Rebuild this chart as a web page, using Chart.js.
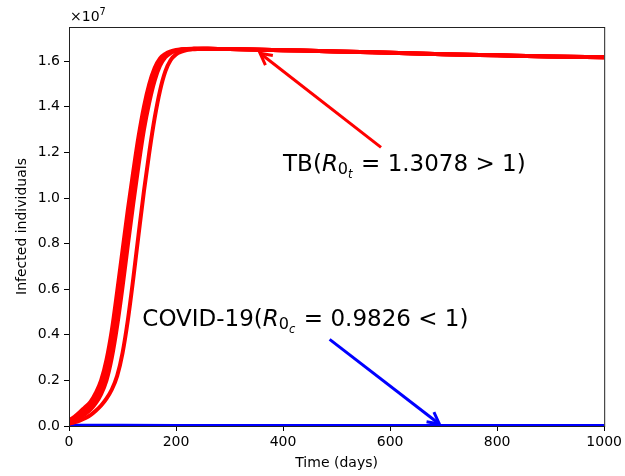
<!DOCTYPE html>
<html>
<head>
<meta charset="utf-8">
<script src="https://cdn.jsdelivr.net/npm/chart.js@4.4.1/dist/chart.umd.min.js"></script>
<style>
  html, body { margin: 0; padding: 0; background: #fff; }
  #wrap { width: 625px; height: 476px; }
</style>
</head>
<body>
<div id="wrap"><canvas id="InfectedChart"></canvas></div>
<script>
// Data block (infected individuals in units of 1e7)
const days = [0, 10, 20, 30, 40, 50, 60, 70, 80, 90, 100, 110, 120, 130, 140, 150, 160, 170, 180, 190,
              200, 210, 220, 230, 240, 250, 260, 300, 400, 500, 600, 700, 800, 900, 1000];
const tbRun1 = [0.025, 0.04, 0.06, 0.083, 0.105, 0.145, 0.2, 0.29, 0.42, 0.59, 0.77, 0.95, 1.115, 1.27, 1.4, 1.5, 1.57, 1.612, 1.632, 1.643,
                1.649, 1.652, 1.654, 1.655, 1.655, 1.655, 1.655, 1.653, 1.648, 1.643, 1.637, 1.631, 1.626, 1.621, 1.617];
const tbRun2 = [0.02, 0.032, 0.048, 0.068, 0.09, 0.122, 0.168, 0.245, 0.36, 0.515, 0.69, 0.87, 1.045, 1.21, 1.35, 1.46, 1.545, 1.598, 1.626, 1.64,
                1.647, 1.651, 1.653, 1.654, 1.655, 1.655, 1.655, 1.653, 1.648, 1.643, 1.637, 1.631, 1.626, 1.621, 1.617];
const tbRun3 = [0.016, 0.025, 0.037, 0.052, 0.072, 0.1, 0.14, 0.2, 0.3, 0.44, 0.61, 0.795, 0.975, 1.145, 1.3, 1.42, 1.515, 1.58, 1.617, 1.636,
                1.645, 1.65, 1.653, 1.654, 1.655, 1.655, 1.655, 1.653, 1.648, 1.643, 1.637, 1.631, 1.626, 1.621, 1.617];
const tbRun4 = [0.01, 0.016, 0.024, 0.034, 0.048, 0.067, 0.09, 0.12, 0.16, 0.22, 0.32, 0.465, 0.645, 0.84, 1.03, 1.2, 1.35, 1.47, 1.555, 1.605,
                1.63, 1.642, 1.649, 1.652, 1.654, 1.655, 1.655, 1.653, 1.648, 1.643, 1.637, 1.631, 1.626, 1.621, 1.617];
const covidDays = [0, 100, 200, 300, 400, 500, 600, 700, 800, 900, 1000];
const covidRun = [0.001, 0.0007, 0.0005, 0.0003, 0.0002, 0.0001, 0.0001, 0, 0, 0, 0];
const xTicks = [0, 200, 400, 600, 800, 1000];
const yTicks = [0, 0.2, 0.4, 0.6, 0.8, 1.0, 1.2, 1.4, 1.6];

// Annotation anchors in data units [day, value]
const tbLabelAt = [400, 1.12];
const tbArrowFrom = [583, 1.222];
const tbArrowTo = [357, 1.635];
const covidLabelAt = [137, 0.439];
const covidArrowFrom = [487, 0.38];
const covidArrowTo = [692, 0.009];

const FONT = '"DejaVu Sans", sans-serif';

const toPoints = (xs, ys) => xs.map((d, i) => ({x: d, y: ys[i]}));

const tbStyle = {
    borderColor: '#ff0000',
    borderWidth: 4,
    pointRadius: 0,
    fill: false,
    cubicInterpolationMode: 'monotone',
    clip: 0
};

const infectedData = {
    datasets: [
        Object.assign({label: 'TB 1', data: toPoints(days, tbRun1)}, tbStyle),
        Object.assign({label: 'TB 2', data: toPoints(days, tbRun2)}, tbStyle),
        Object.assign({label: 'TB 3', data: toPoints(days, tbRun3)}, tbStyle),
        Object.assign({label: 'TB 4', data: toPoints(days, tbRun4)}, tbStyle),
        {
            label: 'COVID-19',
            data: toPoints(covidDays, covidRun),
            borderColor: '#0000ff',
            borderWidth: 4,
            pointRadius: 0,
            fill: false,
            clip: 0
        }
    ]
};

// draw a mathtext-like string made of parts
function drawParts(ctx, parts, x, yBase, size) {
    let cx = x;
    ctx.textAlign = 'left';
    ctx.textBaseline = 'alphabetic';
    for (const p of parts) {
        const fs = size * (p.scale || 1);
        ctx.font = (p.italic ? 'italic ' : '') + fs + 'px ' + FONT;
        ctx.fillText(p.text, cx, yBase + size * (p.shift || 0));
        cx += ctx.measureText(p.text).width + size * (p.after || 0);
    }
}

function drawArrow(ctx, x0, y0, x1, y1, color) {
    const ang = Math.atan2(y0 - y1, x0 - x1);
    const head = 13, spread = Math.PI / 6.5;
    ctx.strokeStyle = color;
    ctx.lineWidth = 3;
    ctx.lineCap = 'butt';
    ctx.lineJoin = 'miter';
    ctx.beginPath();
    ctx.moveTo(x0, y0);
    ctx.lineTo(x1, y1);
    ctx.stroke();
    ctx.beginPath();
    ctx.moveTo(x1 + head * Math.cos(ang - spread), y1 + head * Math.sin(ang - spread));
    ctx.lineTo(x1, y1);
    ctx.lineTo(x1 + head * Math.cos(ang + spread), y1 + head * Math.sin(ang + spread));
    ctx.stroke();
}

// Frame, offset text and annotations plugin
const decorPlugin = {
    id: 'decor',
    afterDatasetsDraw(chart) {
        const {ctx, chartArea: a, scales: {x, y}} = chart;
        const px = p => [x.getPixelForValue(p[0]), y.getPixelForValue(p[1])];
        ctx.save();
        // spines
        ctx.strokeStyle = '#222';
        ctx.lineWidth = 1;
        ctx.strokeRect(a.left + 0.5, a.top + 0.5, a.right - a.left, a.bottom - a.top);

        // x10^7 offset
        ctx.fillStyle = '#000';
        drawParts(ctx, [{text: '\u00d710'}, {text: '7', scale: 0.7, shift: -0.45}], a.left + 1, a.top - 6, 14);

        // arrows
        let f = px(tbArrowFrom), t = px(tbArrowTo);
        drawArrow(ctx, f[0], f[1], t[0], t[1], '#ff0000');
        f = px(covidArrowFrom); t = px(covidArrowTo);
        drawArrow(ctx, f[0], f[1], t[0], t[1], '#0000ff');

        // labels
        ctx.fillStyle = '#000';
        let p = px(tbLabelAt);
        drawParts(ctx, [
            {text: 'TB('},
            {text: 'R', italic: true},
            {text: '0', scale: 0.7, shift: 0.15},
            {text: 't', italic: true, scale: 0.5, shift: 0.3, after: 0.05},
            {text: ' = 1.3078 > 1)'}
        ], p[0], p[1], 23);
        p = px(covidLabelAt);
        drawParts(ctx, [
            {text: 'COVID-19('},
            {text: 'R', italic: true},
            {text: '0', scale: 0.7, shift: 0.15},
            {text: 'c', italic: true, scale: 0.5, shift: 0.3, after: 0.05},
            {text: ' = 0.9826 < 1)'}
        ], p[0], p[1], 23);
        ctx.restore();
    }
};

const infectedConfig = {
    type: 'line',
    data: infectedData,
    options: {
        responsive: true,
        maintainAspectRatio: false,
        animation: false,
        events: [],
        layout: {padding: {top: 27, right: 20, left: 0, bottom: 0}},
        plugins: {
            legend: {display: false},
            tooltip: {enabled: false}
        },
        scales: {
            x: {
                type: 'linear',
                min: 0,
                max: 1000,
                afterBuildTicks: scale => { scale.ticks = xTicks.map(v => ({value: v})); },
                afterFit: scale => { scale.height = 50; },
                grid: {display: true, drawOnChartArea: false, drawTicks: true, tickLength: 5, color: '#000'},
                border: {display: false},
                ticks: {color: '#000', font: {family: FONT, size: 14}, padding: 3, maxRotation: 0,
                        callback: v => String(v)},
                title: {display: true, text: 'Time (days)', color: '#000',
                        font: {family: FONT, size: 14}, padding: {top: 0, bottom: 4}}
            },
            y: {
                type: 'linear',
                min: 0,
                max: 1.75,
                afterBuildTicks: scale => { scale.ticks = yTicks.map(v => ({value: v})); },
                afterFit: scale => { scale.width = 69; },
                grid: {display: true, drawOnChartArea: false, drawTicks: true, tickLength: 5, color: '#000'},
                border: {display: false},
                ticks: {color: '#000', font: {family: FONT, size: 14}, padding: 4,
                        callback: v => v.toFixed(1)},
                title: {display: true, text: 'Infected individuals', color: '#000',
                        font: {family: FONT, size: 14}, padding: {top: 14, bottom: 0}}
            }
        }
    },
    plugins: [decorPlugin]
};

const infectedChart = new Chart(
    document.getElementById('InfectedChart'),
    infectedConfig
);
</script>
</body>
</html>
